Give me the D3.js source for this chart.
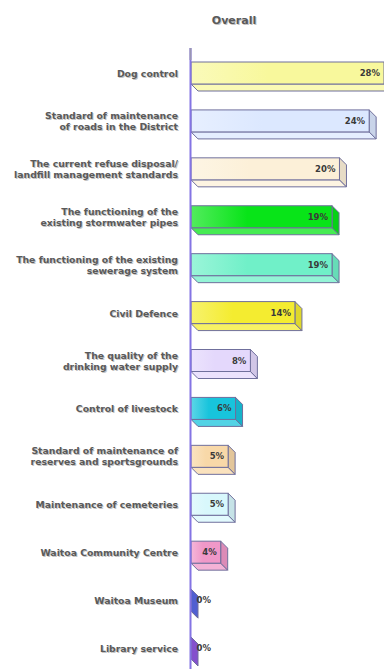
<!DOCTYPE html>
<html>
<head>
<meta charset="utf-8">
<script src="https://cdn.jsdelivr.net/npm/d3@7"></script>
<style>
  html, body { margin: 0; padding: 0; background: #fff; }
  svg { display: block; }
</style>
</head>
<body>
<svg id="chart" width="385" height="669"></svg>
<script>
// Survey results: share of respondents naming each service
const categories = [
  "Dog control",
  "Standard of maintenance|of roads in the District",
  "The current refuse disposal/|landfill management standards",
  "The functioning of the|existing stormwater pipes",
  "The functioning of the existing|sewerage system",
  "Civil Defence",
  "The quality of the|drinking water supply",
  "Control of livestock",
  "Standard of maintenance of|reserves and sportsgrounds",
  "Maintenance of cemeteries",
  "Waitoa Community Centre",
  "Waitoa Museum",
  "Library service"
];
const values = [28, 24, 20, 19, 19, 14, 8, 6, 5, 5, 4, 0, 0];
const barColors = [
  "#f8f89c", "#dce8ff", "#fcf0d8", "#08e418", "#70f0c8", "#f4ec30",
  "#e4d8fc", "#18c4dc", "#f8d8a8", "#d8f8fc", "#f098c8", "#5868e4", "#9058e0"
];
const title = "Overall";

const FONT = "DejaVu Sans, Verdana, sans-serif";
const svg = d3.select("#chart");
const axisX = 191;
const plotRight = 384;

const x = d3.scaleLinear().domain([0, 26]).range([axisX, plotRight]).clamp(true);
const y = d3.scalePoint().domain(categories).range([73, 648]);

const depth = 7, half = 11;

const defs = svg.append("defs");
defs.append("clipPath").attr("id", "plotClip")
  .append("rect").attr("x", axisX).attr("y", 40).attr("width", plotRight - axisX).attr("height", 640);

barColors.forEach((c, i) => {
  const g = defs.append("linearGradient").attr("id", "grad" + i)
    .attr("x1", 0).attr("x2", 1).attr("y1", 0).attr("y2", 0);
  g.append("stop").attr("offset", "0%").attr("stop-color", d3.interpolateRgb(c, "#fff")(0.3));
  g.append("stop").attr("offset", "40%").attr("stop-color", c);
  g.append("stop").attr("offset", "100%").attr("stop-color", c);
});

// Text with a soft grey drop shadow
function shadowText(sel, txt, attrs) {
  const g = sel.append("g");
  g.append("text").text(txt).attr("fill", "#c4c4c4").attr("transform", "translate(1,1)").call(t => attrs(t));
  g.append("text").text(txt).attr("fill", "#5a5a5a").call(t => attrs(t));
  return g;
}

shadowText(svg, title, t => t.attr("x", 234).attr("y", 24).attr("text-anchor", "middle")
  .attr("font-family", FONT).attr("font-weight", "bold").attr("font-size", 11));

// Bars drawn as three faces: front, bottom and right side
const bars = svg.append("g").attr("clip-path", "url(#plotClip)")
  .selectAll("g.bar").data(categories).join("g").attr("class", "bar");

bars.each(function(cat, i) {
  const g = d3.select(this);
  const c = y(cat);
  const x0 = x(0), x1 = x(values[i]);
  const y0 = c - half, y1 = c + half;
  const base = d3.color(barColors[i]);
  const stroke = "#6f6f9c";
  g.append("path")
    .attr("d", `M${x0},${y1}L${x1},${y1}L${x1 + depth},${y1 + depth}L${x0 + depth},${y1 + depth}Z`)
    .attr("fill", d3.interpolateRgb(base, "#fff")(0.25)).attr("stroke", stroke).attr("stroke-width", 1);
  g.append("path")
    .attr("d", `M${x1},${y0}L${x1 + depth},${y0 + depth}L${x1 + depth},${y1 + depth}L${x1},${y1}Z`)
    .attr("fill", base.darker(0.25)).attr("stroke", stroke).attr("stroke-width", 1);
  g.append("rect")
    .attr("x", x0).attr("y", y0).attr("width", Math.max(0, x1 - x0)).attr("height", y1 - y0)
    .attr("fill", `url(#grad${i})`).attr("stroke", stroke).attr("stroke-width", 1);
});

// Value labels inside the bar end
svg.append("g").selectAll("text").data(categories).join("text")
  .attr("x", (d, i) => Math.max(x(values[i]) - 4, axisX + 20))
  .attr("y", d => y(d) + 3)
  .attr("text-anchor", "end")
  .attr("font-family", FONT)
  .attr("font-size", 8.5)
  .attr("font-weight", "bold")
  .attr("fill", "#3a3a3a")
  .text((d, i) => values[i] + "%");

// Category labels
const labels = svg.append("g");
categories.forEach(cat => {
  const lines = cat.split("|");
  const c = y(cat);
  lines.forEach((ln, k) => {
    const yy = lines.length === 1 ? c + 4 : c - 2 + k * 11;
    shadowText(labels, ln, t => t.attr("x", 178).attr("y", yy).attr("text-anchor", "end")
      .attr("font-family", FONT).attr("font-weight", "bold").attr("font-size", 9.3));
  });
});

// Category axis line
svg.append("line")
  .attr("x1", axisX - 0.5).attr("x2", axisX - 0.5).attr("y1", 48).attr("y2", 669)
  .attr("stroke", "#8474e4").attr("stroke-width", 2);
svg.append("line")
  .attr("x1", axisX - 0.5).attr("x2", axisX - 0.5).attr("y1", 48).attr("y2", 60)
  .attr("stroke", "#9a96b4").attr("stroke-width", 2);
</script>
</body>
</html>
